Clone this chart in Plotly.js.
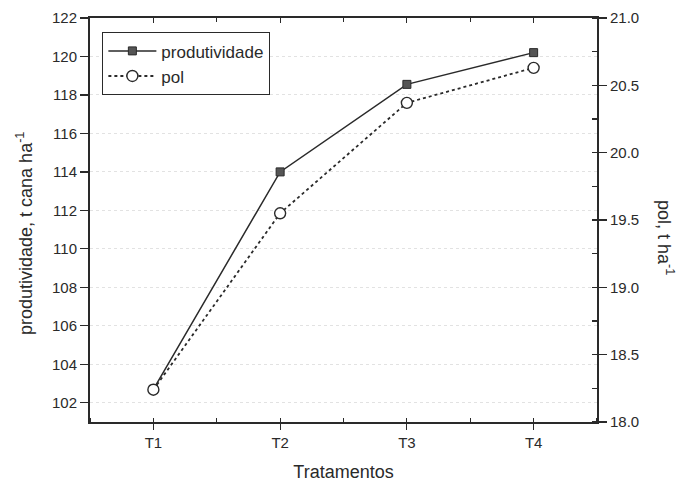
<!DOCTYPE html>
<html>
<head>
<meta charset="utf-8">
<script src="https://cdn.plot.ly/plotly-3.0.1.min.js"></script>
<style>html,body{margin:0;padding:0;background:#fff;}#chart{width:679px;height:488px;}</style>
</head>
<body>
<div id="chart"></div>
<script>
const categories = ['T1', 'T2', 'T3', 'T4'];
const produtividade = [102.7, 114.0, 118.55, 120.2];
const pol = [18.24, 19.55, 20.37, 20.63];
const leftTicks = [102, 104, 106, 108, 110, 112, 114, 116, 118, 120, 122];
const rightTicks = [18.0, 18.5, 19.0, 19.5, 20.0, 20.5, 21.0];

const xPos = categories.map((c, i) => i + 1);
const ink = '#2a2a2a';
const font = {family: "'Liberation Sans', Arial, sans-serif", color: ink};

const traces = [
  {
    x: xPos, y: produtividade, name: 'produtividade', type: 'scatter', mode: 'lines+markers',
    line: {color: ink, width: 1.5},
    marker: {symbol: 'square', size: 8, color: '#555', line: {color: ink, width: 1}},
    xaxis: 'x', yaxis: 'y'
  },
  {
    x: xPos, y: pol, name: 'pol', type: 'scatter', mode: 'lines+markers',
    line: {color: ink, width: 1.8, dash: 'dot'},
    marker: {symbol: 'circle', size: 11, color: '#fff', line: {color: ink, width: 1.4}},
    xaxis: 'x', yaxis: 'y2'
  },
  {
    x: xPos, y: [null, null, null, null], showlegend: false, hoverinfo: 'skip',
    type: 'scatter', mode: 'lines', xaxis: 'x2', yaxis: 'y'
  }
];

const layout = {
  width: 679, height: 488,
  margin: {l: 90, r: 82, t: 18, b: 66},
  paper_bgcolor: '#fff', plot_bgcolor: '#fff',
  font: Object.assign({}, font, {size: 15}),
  showlegend: true,
  legend: {
    x: 0.024, y: 0.965, xanchor: 'left', yanchor: 'top',
    bgcolor: '#fff', bordercolor: ink, borderwidth: 1.2,
    font: Object.assign({}, font, {size: 17}),
    tracegroupgap: 0, itemwidth: 48
  },
  xaxis: {
    range: [0.5, 4.5], tickvals: xPos, ticktext: categories,
    ticks: 'outside', ticklen: 6, tickwidth: 1.2, tickcolor: ink,
    showline: true, linecolor: ink, linewidth: 1.6, mirror: true,
    showgrid: false, zeroline: false,
    minor: {dtick: 0.5, tick0: 0.5, ticks: 'inside', ticklen: 4, tickcolor: ink, showgrid: false},
    tickfont: Object.assign({}, font, {size: 15}),
    title: {text: 'Tratamentos', font: Object.assign({}, font, {size: 18}), standoff: 16}
  },
  xaxis2: {
    overlaying: 'x', side: 'top', anchor: 'y', range: [0.5, 4.5], tickvals: xPos,
    ticks: 'inside', ticklen: 5, tickcolor: ink, showticklabels: false,
    showline: false, showgrid: false, zeroline: false,
    minor: {dtick: 0.5, tick0: 0.5, ticks: 'inside', ticklen: 4, tickcolor: ink, showgrid: false}
  },
  yaxis: {
    range: [101, 122], tickvals: leftTicks, ticktext: leftTicks.map(String),
    ticks: 'outside', ticklen: 8, tickwidth: 1.2, tickcolor: ink,
    showline: true, linecolor: ink, linewidth: 2,
    showgrid: true, gridcolor: '#e2e2e2', griddash: 'dot', gridwidth: 1,
    zeroline: false,
    tickfont: Object.assign({}, font, {size: 15})
  },
  yaxis2: {
    overlaying: 'y', side: 'right', anchor: 'x', range: [18, 21],
    tickvals: rightTicks, ticktext: rightTicks.map(v => v.toFixed(1)),
    ticks: 'outside', ticklen: 8, tickwidth: 1.2, tickcolor: ink,
    showline: true, linecolor: ink, linewidth: 2,
    showgrid: false, zeroline: false,
    minor: {dtick: 0.25, tick0: 18, ticks: 'inside', ticklen: 5, tickcolor: ink, showgrid: false},
    tickfont: Object.assign({}, font, {size: 15})
  },
  annotations: [
    {
      text: 'produtividade, t cana ha<sup>-1</sup>', textangle: -90,
      xref: 'paper', yref: 'paper', x: (24 - 90) / 507, y: (422 - 234) / 404,
      xanchor: 'center', yanchor: 'middle', showarrow: false,
      font: Object.assign({}, font, {size: 18})
    },
    {
      text: 'pol, t ha<sup>-1</sup>', textangle: 90,
      xref: 'paper', yref: 'paper', x: (666 - 90) / 507, y: (422 - 237) / 404,
      xanchor: 'center', yanchor: 'middle', showarrow: false,
      font: Object.assign({}, font, {size: 18})
    }
  ]
};

Plotly.newPlot('chart', traces, layout, {displayModeBar: false, staticPlot: true});
</script>
</body>
</html>
